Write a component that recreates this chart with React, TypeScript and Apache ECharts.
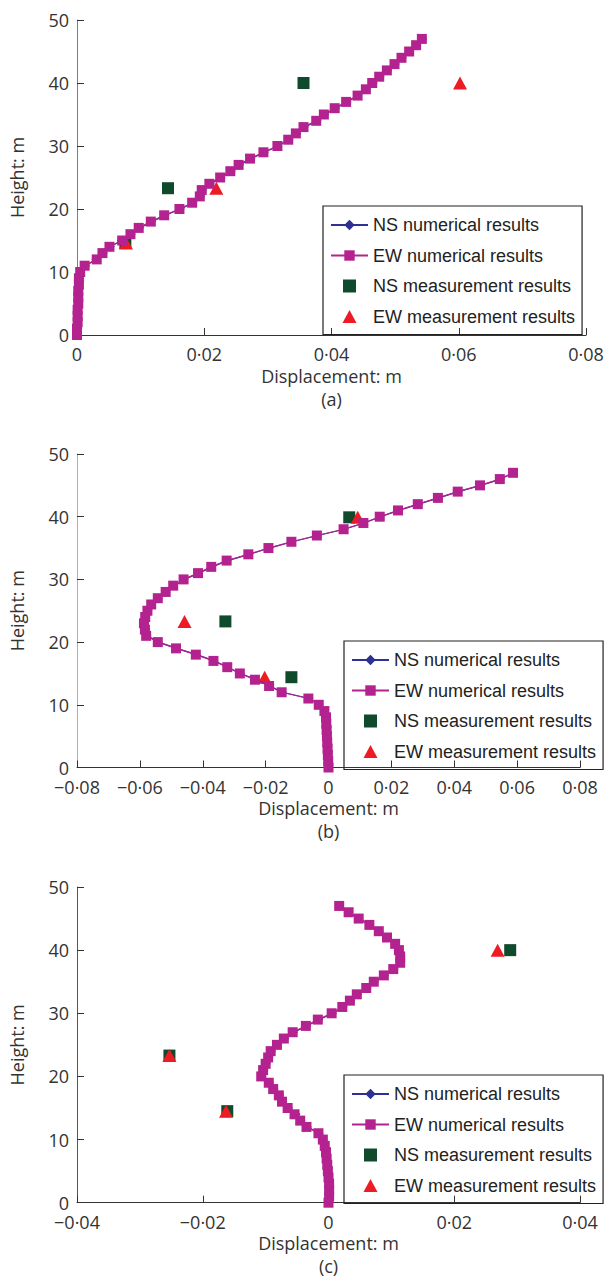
import React, { useEffect, useRef } from 'react';
import * as echarts from 'echarts';

// Heights of the numerical result nodes (m)
const HEIGHTS = [0, 1, 2, 3, 4, 5, 6, 7, 8, 9, 10, 11, 12, 13, 14, 15, 16, 17, 18, 19, 20, 21, 22, 23, 24, 25, 26, 27, 28, 29, 30, 31, 32, 33, 34, 35, 36, 37, 38, 39, 40, 41, 42, 43, 44, 45, 46, 47];

// Panel (a)
const A_NS = [0.0000, 0.0001, 0.0001, 0.0002, 0.0002, 0.0002, 0.0003, 0.0003, 0.0003, 0.0004, 0.0006, 0.0014, 0.0029, 0.0042, 0.0053, 0.0069, 0.0086, 0.0099, 0.0118, 0.0139, 0.0163, 0.0183, 0.0195, 0.0198, 0.0210, 0.0227, 0.0243, 0.0256, 0.0274, 0.0295, 0.0316, 0.0334, 0.0346, 0.0358, 0.0378, 0.0390, 0.0407, 0.0425, 0.0442, 0.0456, 0.0466, 0.0477, 0.0489, 0.0501, 0.0512, 0.0524, 0.0535, 0.0544];
const A_EW = [0.0000, 0.0000, 0.0001, 0.0001, 0.0001, 0.0002, 0.0002, 0.0002, 0.0003, 0.0003, 0.0005, 0.0012, 0.0031, 0.0040, 0.0051, 0.0071, 0.0084, 0.0097, 0.0116, 0.0137, 0.0161, 0.0181, 0.0193, 0.0196, 0.0208, 0.0225, 0.0241, 0.0254, 0.0272, 0.0293, 0.0315, 0.0332, 0.0344, 0.0356, 0.0376, 0.0388, 0.0405, 0.0423, 0.0441, 0.0454, 0.0464, 0.0475, 0.0487, 0.0499, 0.0510, 0.0522, 0.0533, 0.0542];
const A_MEAS_H = [14.6, 23.3, 40.0];
const A_NS_MEAS = [0.0076, 0.0143, 0.0356];
const A_EW_MEAS = [0.0077, 0.0219, 0.0602];

// Panel (b)
const B_NS = [0.0000, -0.0001, -0.0002, -0.0003, -0.0004, -0.0004, -0.0005, -0.0006, -0.0007, -0.0011, -0.0029, -0.0061, -0.0146, -0.0186, -0.0231, -0.0279, -0.0320, -0.0363, -0.0419, -0.0482, -0.0540, -0.0576, -0.0580, -0.0583, -0.0580, -0.0573, -0.0561, -0.0540, -0.0515, -0.0491, -0.0458, -0.0412, -0.0370, -0.0321, -0.0252, -0.0188, -0.0115, -0.0034, 0.0051, 0.0114, 0.0166, 0.0224, 0.0287, 0.0351, 0.0414, 0.0485, 0.0548, 0.0590];
const B_EW = [0.0000, -0.0001, -0.0002, -0.0003, -0.0004, -0.0005, -0.0006, -0.0007, -0.0008, -0.0013, -0.0031, -0.0064, -0.0149, -0.0189, -0.0234, -0.0282, -0.0322, -0.0366, -0.0422, -0.0485, -0.0543, -0.0580, -0.0584, -0.0587, -0.0583, -0.0576, -0.0564, -0.0543, -0.0518, -0.0494, -0.0461, -0.0415, -0.0373, -0.0324, -0.0255, -0.0191, -0.0118, -0.0037, 0.0048, 0.0111, 0.0163, 0.0221, 0.0284, 0.0348, 0.0411, 0.0482, 0.0545, 0.0587];
const B_MEAS_H = [14.4, 23.3, 39.9];
const B_NS_MEAS = [-0.0118, -0.0328, 0.0066];
const B_EW_MEAS = [-0.0203, -0.0458, 0.0093];

// Panel (c)
const C_NS = [0.0000, 0.0001, 0.0002, 0.0002, 0.0001, 0.0000, -0.0001, -0.0002, -0.0003, -0.0005, -0.0008, -0.0014, -0.0033, -0.0043, -0.0051, -0.0063, -0.0072, -0.0077, -0.0086, -0.0093, -0.0105, -0.0102, -0.0098, -0.0094, -0.0090, -0.0080, -0.0069, -0.0055, -0.0034, -0.0015, 0.0007, 0.0024, 0.0036, 0.0047, 0.0062, 0.0074, 0.0090, 0.0105, 0.0116, 0.0116, 0.0113, 0.0107, 0.0094, 0.0081, 0.0066, 0.0049, 0.0033, 0.0018];
const C_EW = [0.0000, 0.0001, 0.0001, 0.0001, 0.0000, -0.0001, -0.0002, -0.0003, -0.0004, -0.0006, -0.0009, -0.0016, -0.0035, -0.0045, -0.0054, -0.0065, -0.0074, -0.0079, -0.0088, -0.0095, -0.0107, -0.0104, -0.0100, -0.0096, -0.0092, -0.0082, -0.0071, -0.0057, -0.0036, -0.0017, 0.0005, 0.0022, 0.0034, 0.0045, 0.0060, 0.0072, 0.0088, 0.0103, 0.0114, 0.0114, 0.0112, 0.0106, 0.0093, 0.0080, 0.0065, 0.0048, 0.0032, 0.0017];
const C_MEAS_H = [14.5, 23.3, 40.0];
const C_NS_MEAS = [-0.0161, -0.0253, 0.0289];
const C_EW_MEAS = [-0.0163, -0.0253, 0.0269];

const Y_MIN = 0;
const Y_MAX = 50;
const Y_STEP = 10;
const X_STEP = 0.02;

const NAMES = ['NS numerical results', 'EW numerical results', 'NS measurement results', 'EW measurement results'];
const ICONS = [undefined, undefined, 'path://M0,0L12,0L12,12L0,12Z', 'path://M7,0L14,13L0,13Z'];

const panels = [
  { letter: '(a)', xMin: 0, xMax: 0.08, ns: A_NS, ew: A_EW, mh: A_MEAS_H, nsm: A_NS_MEAS, ewm: A_EW_MEAS,
    grid: { left: 72, top: 20, width: 514, height: 315 }, legend: { left: 323, top: 206 }, yColor: '#7d7d7d' },
  { letter: '(b)', xMin: -0.08, xMax: 0.08, ns: B_NS, ew: B_EW, mh: B_MEAS_H, nsm: B_NS_MEAS, ewm: B_EW_MEAS,
    grid: { left: 68, top: 454, width: 512, height: 313.5 }, legend: { left: 344, top: 641 }, yColor: '#c4ad98' },
  { letter: '(c)', xMin: -0.04, xMax: 0.04, ns: C_NS, ew: C_EW, mh: C_MEAS_H, nsm: C_NS_MEAS, ewm: C_EW_MEAS,
    grid: { left: 68, top: 887, width: 512, height: 315.7 }, legend: { left: 344, top: 1075 }, yColor: '#555555' },
];

const AXIS_FONT = '"Open Sans", "Noto Sans", sans-serif';
const LEGEND_FONT = '"Liberation Sans", Arial, sans-serif';

const fmtX = (v: number) => {
  if (Math.abs(v) < 1e-9) return '0';
  const s = Math.abs(v).toFixed(2).replace('.', '·');
  return (v < 0 ? '−' : '') + s;
};

export default function App() {
  const ref = useRef<HTMLDivElement>(null);
  useEffect(() => {
    if (!ref.current) return;
    const chart = echarts.init(ref.current, undefined, { renderer: 'svg' });
    const grids: any[] = [];
    const xAxes: any[] = [];
    const yAxes: any[] = [];
    const legends: any[] = [];
    const series: any[] = [];
    panels.forEach((p, i) => {
      grids.push({ ...p.grid, containLabel: false });
      xAxes.push({
        type: 'value', gridIndex: i, min: p.xMin, max: p.xMax, interval: X_STEP,
        name: 'Displacement: m\n' + p.letter, nameLocation: 'middle', nameGap: 29,
        nameTextStyle: { fontFamily: AXIS_FONT, fontSize: 18, color: '#333', lineHeight: 23 },
        axisLine: { show: true, onZero: false, lineStyle: { color: '#333', width: 1 } },
        axisTick: { show: true, inside: true, length: 7, lineStyle: { color: '#333' } },
        axisLabel: { formatter: fmtX, fontFamily: AXIS_FONT, fontSize: 18, color: '#333', margin: 10, lineHeight: 18 },
        splitLine: { show: false },
      });
      yAxes.push({
        type: 'value', gridIndex: i, min: Y_MIN, max: Y_MAX, interval: Y_STEP,
        name: 'Height: m', nameLocation: 'middle', nameGap: 51,
        nameTextStyle: { fontFamily: AXIS_FONT, fontSize: 18, color: '#333' },
        axisLine: { show: true, onZero: false, lineStyle: { color: p.yColor, width: 1 } },
        axisTick: { show: true, inside: true, length: 7, lineStyle: { color: '#333' } },
        axisLabel: { fontFamily: AXIS_FONT, fontSize: 18, color: '#333', margin: 8, lineHeight: 15 },
        splitLine: { show: false },
      });
      legends.push({
        show: true, orient: 'vertical', left: p.legend.left, top: p.legend.top,
        data: NAMES.map((n, k) => (ICONS[k] ? { name: n, icon: ICONS[k] } : { name: n })),
        itemWidth: 37, itemHeight: 13, itemGap: 12.5, symbolKeepAspect: true,
        padding: [10, 7, 9, 7], borderColor: '#222', borderWidth: 1.2,
        selectedMode: false,
        textStyle: { fontFamily: LEGEND_FONT, fontSize: 18, color: '#222', lineHeight: 18 },
      });
      series.push({
        name: NAMES[0], type: 'line', xAxisIndex: i, yAxisIndex: i,
        data: HEIGHTS.map((h, k) => [p.ns[k], h]),
        symbol: 'diamond', symbolSize: 8, showAllSymbol: true,
        lineStyle: { color: '#2e3192', width: 1.2 }, itemStyle: { color: '#2e3192' },
      });
      series.push({
        name: NAMES[1], type: 'line', xAxisIndex: i, yAxisIndex: i,
        data: HEIGHTS.map((h, k) => [p.ew[k], h]),
        symbol: 'rect', symbolSize: 10, showAllSymbol: true,
        lineStyle: { color: '#b3228f', width: 1.2 }, itemStyle: { color: '#b3228f' },
      });
      series.push({
        name: NAMES[2], type: 'scatter', xAxisIndex: i, yAxisIndex: i,
        data: p.mh.map((h, k) => [p.nsm[k], h]),
        symbol: 'rect', symbolSize: 12, itemStyle: { color: '#0f4a2d', opacity: 1 },
      });
      series.push({
        name: NAMES[3], type: 'scatter', xAxisIndex: i, yAxisIndex: i,
        data: p.mh.map((h, k) => [p.ewm[k], h]),
        symbol: 'triangle', symbolSize: [14, 13], itemStyle: { color: '#ed1c24', opacity: 1 },
      });
    });
    chart.setOption({
      animation: false,
      backgroundColor: '#ffffff',
      grid: grids, xAxis: xAxes, yAxis: yAxes, legend: legends, series,
    });
    return () => chart.dispose();
  }, []);
  return <div ref={ref} style={{ position: 'absolute', left: 0, top: 0, width: 608, height: 1280, background: '#fff' }} />;
}
